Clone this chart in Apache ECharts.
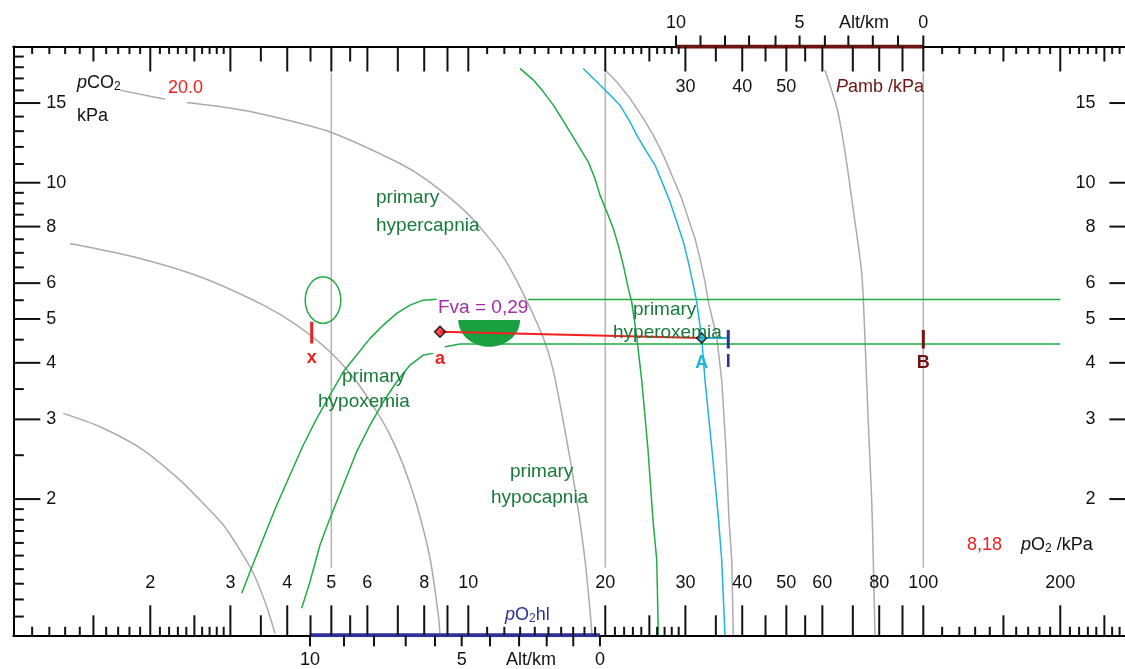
<!DOCTYPE html>
<html><head><meta charset="utf-8">
<script src="https://cdn.jsdelivr.net/npm/echarts/dist/echarts.min.js"></script>
<style>html,body{margin:0;padding:0;background:#fff}#c{width:1125px;height:669px}</style>
</head><body><div id="c"></div>
<script>
// ---------- axis ranges (kPa, log scales) ----------
const X_MIN = 1, X_MAX = 300, Y_MIN = 1, Y_MAX = 20;

// ---------- pO2 axis ticks ----------
const pO2TicksLong = [2,3,4,5,6,7,8,9,10,20,30,40,50,60,70,80,90,100,200];
const pO2TicksMedium = [1.5,2.5,3.5,4.5,5.5,25,35,45,55,150,250];
const pO2TicksSmall = [1.1,1.2,1.3,1.4,1.6,1.7,1.8,1.9,2.1,2.2,2.3,2.4,2.6,2.7,2.8,2.9,
  11,12,13,14,15,16,17,18,19,21,22,23,24,26,27,28,29,
  110,120,130,140,160,170,180,190,210,220,230,240,260,270,280,290];
const pO2LabelsBottom = [2,3,4,5,6,8,10,20,30,40,50,60,80,100,200];
const pO2LabelsTop = [30,40,50];

// ---------- pCO2 axis ticks ----------
const pCO2TicksLong = [2,3,4,5,6,8,10,15];
const pCO2TicksSmall = [1.1,1.2,1.3,1.4,1.5,1.6,1.7,1.8,1.9,2.5,3.5,4.5,5.5,6.5,7,7.5,8.5,9,9.5,
  11,12,13,14,16,17,18,19];
const pCO2Labels = [2,3,4,5,6,8,10,15];

// ---------- altitude scales (km 10 .. 0) ----------
const altLabelled = ['10','5','0'];
const altAmbientP = [28.61,32.38,36.66,41.41,47.34,53.47,60.77,68.43,77.45,87.99,100];   // Pamb kPa
const altHlPO2 = [4.488,5.331,6.205,7.285,8.450,9.671,11.16,12.93,14.87,17.01,19.47];    // pO2hl kPa

// ---------- vertical reference lines ----------
const refPO2 = [5, 20, 100];
const refPCO2Span = [1.41, 17.5];

// ---------- gray iso-curves ----------
const isoA_head = [[1.716,16.02],[2.155,15.30]];
const isoA = [[2.409,15.04],[3.040,14.59],[3.611,14.10],[4.966,12.95],[7.078,11.03],[8.115,10.13],[9.934,8.567],[11.74,7.024],[12.99,5.880],[14.59,4.560],[15.36,3.855],[16.15,2.989],[16.90,2.318],[17.51,1.844],[18.05,1.467],[18.51,1.137],[18.70,1.0]];
const isoB = [[1.332,7.341],[1.836,6.861],[2.572,6.196],[3.543,5.365],[4.196,4.847],[4.966,4.231],[5.684,3.633],[6.290,3.119],[6.729,2.770],[7.196,2.377],[7.702,1.941],[8.239,1.480],[8.592,1.109],[8.666,1.0]];
const isoC = [[1.288,3.093],[1.551,2.889],[1.931,2.567],[2.325,2.203],[2.572,1.990],[2.894,1.753],[3.150,1.543],[3.370,1.371],[3.606,1.157],[3.760,1.01]];
const isoD = [[19.97,17.74],[21.19,16.71],[22.67,15.36],[24.24,13.87],[25.50,12.74],[26.83,11.51],[28.21,10.22],[29.44,9.234],[30.44,8.341],[31.49,7.534],[32.30,6.803],[33.13,6.040],[33.70,5.456],[35.15,4.567],[36.05,3.664],[36.85,2.567],[37.41,1.797],[37.93,1.467],[38.23,1.0]];
const isoE = [[60.77,17.74],[64.77,14.47],[67.19,11.80],[69.67,9.154],[73.21,6.314],[74.45,4.491],[75.70,2.944],[77.01,1.990],[77.64,1.467],[78.31,1.0]];

// ---------- green limit curves ----------
const hypocapniaLimit = [[12.99,17.89],[13.90,16.86],[14.62,15.88],[15.38,14.84],[16.04,13.87],[16.73,12.95],[17.60,11.91],[18.35,11.12],[18.98,10.22],[19.47,9.389],[20.15,8.626],[20.83,7.925],[21.36,7.281],[21.91,6.577],[22.47,5.842],[22.86,5.456],[23.45,4.567],[24.05,3.664],[24.83,2.567],[25.46,1.797],[25.95,1.467],[26.16,1.0]];
const hypoxemiaUpper = [[3.177,1.238],[3.313,1.382],[3.543,1.637],[3.793,1.941],[4.056,2.260],[4.339,2.633],[4.644,3.016],[4.966,3.395],[5.312,3.822],[5.684,4.161],[6.081,4.530],[6.505,4.847],[6.961,5.143],[7.444,5.365],[7.963,5.503],[8.521,5.531]];
const hypoxemiaLower = [[4.303,1.147],[4.488,1.313],[4.721,1.583],[4.966,1.813],[5.312,2.148],[5.684,2.545],[6.081,2.914],[6.505,3.281],[6.961,3.633],[7.444,3.955],[7.963,4.161],[8.377,4.197]];
const upperPCO2Limit = [[13.53,5.523],[200,5.523]];
const lowerPCO2Limit = [[8.887,4.341],[9.589,4.400],[200,4.400]];
const normalEllipse = [[4.381,4.889,5.246,6.196]];      // pO2 min, pCO2 min, pO2 max, pCO2 max
const fvaDisc = [[9.507,4.971,12.99,4.341]];            // pO2 left, pCO2 top, pO2 right, pCO2 bottom

// ---------- cyan curve & points ----------
const cyanCurve = [[17.89,17.89],[19.15,16.71],[20.49,15.62],[21.54,14.84],[22.67,13.63],[23.45,12.74],[24.66,11.70],[25.72,10.94],[26.83,9.879],[27.75,9.074],[28.71,8.197],[29.69,7.404],[30.44,6.688],[31.22,5.940],[31.77,5.456],[32.58,4.537],[33.13,3.664],[34.32,2.567],[35.49,1.797],[36.05,1.467],[36.66,1.0]];
const pointA_art = [8.666, 4.685];   // a
const pointA_alv = [32.58, 4.537];   // A
const pointI = [37.27, 4.537];
const markerX = [[4.527,4.928],[4.527,4.416]];
const markerI = [[37.27,4.725],[37.27,4.305]];
const markerB = [[100,4.725],[100,4.305]];

// ---------- colours ----------
const GRAY = '#ababab', GREEN = '#22ab45', GREEN_TXT = '#177a3b', CYAN = '#1fb4dc',
      RED = '#f02020', MAROON = '#6e1212', BLUE = '#30309a', PURPLE = '#a22ca8', BLACK = '#111';
const FONT = '"Liberation Sans", Arial, sans-serif';

function tickSeries(values, fixed, axis, dx, dy, color, width) {
  return {
    type: 'custom', silent: true, z: 10, clip: false,
    data: values.map(v => axis === 'x' ? [v, fixed] : [fixed, v]),
    encode: {x: 0, y: 1},
    renderItem: (params, api) => {
      const p = api.coord([api.value(0), api.value(1)]);
      return {type: 'line', shape: {x1: p[0], y1: p[1], x2: p[0] + dx, y2: p[1] + dy},
              style: {stroke: color, lineWidth: width}};
    }
  };
}
function textSeries(values, fixed, axis, dx, dy, align, texts, color, weight) {
  return {
    type: 'custom', silent: true, z: 12, clip: false,
    data: values.map(v => axis === 'x' ? [v, fixed] : [fixed, v]),
    encode: {x: 0, y: 1},
    renderItem: (params, api) => {
      const p = api.coord([api.value(0), api.value(1)]);
      const t = texts ? texts[params.dataIndex] : String(values[params.dataIndex]);
      return {type: 'text', x: p[0] + dx, y: p[1] + dy,
              style: {text: t, fill: color || BLACK, fontSize: 18, fontFamily: FONT,
                      fontWeight: weight || 'normal', align: align, verticalAlign: 'middle'}};
    }
  };
}
function line(data, color, width, smooth, z) {
  return {type: 'line', data: data, symbol: 'none', showSymbol: false, smooth: smooth || 0,
          lineStyle: {color: color, width: width}, silent: true, z: z || 3, animation: false};
}

const series = [];
refPO2.forEach(v => series.push(line([[v, refPCO2Span[0]], [v, refPCO2Span[1]]], '#b4b4b4', 1.5, 0, 2)));
[isoA_head, isoA, isoB, isoC, isoE].forEach(d => series.push(line(d, GRAY, 1.5, 0.25, 3)));
series.push(line(isoD, GRAY, 1.5, 0, 3));
[hypocapniaLimit, hypoxemiaUpper, hypoxemiaLower].forEach(d => series.push(line(d, GREEN, 1.5, 0, 4)));
series.push(line(upperPCO2Limit, GREEN, 1.5, 0, 4));
series.push(line(lowerPCO2Limit, GREEN, 1.5, 0, 4));
series.push(line(cyanCurve, CYAN, 1.5, 0, 4));
series.push({type: 'custom', silent: true, z: 5, data: normalEllipse, encode: {x: [0, 2], y: [1, 3]},
  renderItem: (params, api) => {
    const a = api.coord([api.value(0), api.value(1)]), b = api.coord([api.value(2), api.value(3)]);
    return {type: 'ellipse', shape: {cx: (a[0] + b[0]) / 2, cy: (a[1] + b[1]) / 2,
            rx: Math.abs(b[0] - a[0]) / 2, ry: Math.abs(b[1] - a[1]) / 2},
            style: {fill: 'none', stroke: GREEN, lineWidth: 1.5}};
  }});
series.push({type: 'custom', silent: true, z: 5, data: fvaDisc, encode: {x: [0, 2], y: [1, 3]},
  renderItem: (params, api) => {
    const a = api.coord([api.value(0), api.value(1)]), b = api.coord([api.value(2), api.value(3)]);
    const cx = (a[0] + b[0]) / 2, cy = a[1], rx = (b[0] - a[0]) / 2, ry = b[1] - a[1];
    const pts = [];
    for (let k = 0; k <= 40; k++) { const t = Math.PI * k / 40; pts.push([cx - rx * Math.cos(t), cy + ry * Math.sin(t)]); }
    return {type: 'polygon', shape: {points: pts}, style: {fill: '#1aa040'}};
  }});
series.push(line([pointA_art, pointA_alv], RED, 2, 0, 6));
series.push(line([pointA_alv, pointI], CYAN, 2, 0, 6));
series.push(line(markerX, RED, 3, 0, 7));
series.push(line(markerI, BLUE, 3, 0, 7));
series.push(line(markerB, MAROON, 3, 0, 7));
series.push({type: 'scatter', data: [pointA_art], symbol: 'diamond', symbolSize: 11, z: 8, silent: true,
  itemStyle: {color: RED, borderColor: '#000', borderWidth: 1.5}});
series.push({type: 'scatter', data: [pointA_alv], symbol: 'diamond', symbolSize: 10, z: 8, silent: true,
  itemStyle: {color: CYAN, borderColor: '#000', borderWidth: 1.5}});
series.push(textSeries([markerX[1][0]], markerX[1][1], 'x', 0, 15, 'center', ['x'], RED, 'bold'));
series.push(textSeries([pointA_art[0]], pointA_art[1], 'x', 0, 27, 'center', ['a'], RED, 'bold'));
series.push(textSeries([pointA_alv[0]], pointA_alv[1], 'x', 0, 25, 'center', ['A'], CYAN, 'bold'));
series.push(textSeries([markerI[1][0]], markerI[1][1], 'x', 0, 14, 'center', ['I'], BLUE, 'bold'));
series.push(textSeries([markerB[1][0]], markerB[1][1], 'x', 0, 15, 'center', ['B'], MAROON, 'bold'));

series.push(line([[altAmbientP[0], Y_MAX], [altAmbientP[10], Y_MAX]], MAROON, 4, 0, 9));
series.push(line([[altHlPO2[0], Y_MIN], [altHlPO2[10], Y_MIN]], BLUE, 4, 0, 9));

series.push(tickSeries(pO2TicksLong, Y_MIN, 'x', 0, -30, BLACK, 2));
series.push(tickSeries(pO2TicksMedium, Y_MIN, 'x', 0, -20, BLACK, 2));
series.push(tickSeries(pO2TicksSmall, Y_MIN, 'x', 0, -8.5, BLACK, 2));
series.push(tickSeries(pO2TicksLong, Y_MAX, 'x', 0, 25, BLACK, 2));
series.push(tickSeries(pO2TicksMedium, Y_MAX, 'x', 0, 15, BLACK, 2));
series.push(tickSeries(pO2TicksSmall, Y_MAX, 'x', 0, 7.5, BLACK, 2));
series.push(tickSeries(pCO2TicksLong, X_MIN, 'y', 27, 0, BLACK, 2));
series.push(tickSeries(pCO2TicksSmall, X_MIN, 'y', 10.5, 0, BLACK, 2));
series.push(tickSeries(pCO2TicksLong, X_MAX, 'y', -31, 0, BLACK, 2));
series.push(tickSeries(pCO2TicksSmall, X_MAX, 'y', -10.5, 0, BLACK, 2));
series.push(tickSeries(altAmbientP, Y_MAX, 'x', 0, -11, BLACK, 2));
series.push(tickSeries(altHlPO2, Y_MIN, 'x', 0, 11, BLACK, 2));

series.push(textSeries(pO2LabelsBottom, Y_MIN, 'x', 0, -52, 'center'));
series.push(textSeries(pO2LabelsTop, Y_MAX, 'x', 0, 41, 'center'));
series.push(textSeries(pCO2Labels, X_MIN, 'y', 33, 0, 'left'));
series.push(textSeries(pCO2Labels, X_MAX, 'y', -45, 0, 'right'));
series.push(textSeries([altAmbientP[0], altAmbientP[5], altAmbientP[10]], Y_MAX, 'x', 0, -23, 'center', altLabelled));
series.push(textSeries([altHlPO2[0], altHlPO2[5], altHlPO2[10]], Y_MIN, 'x', 0, 25, 'center', altLabelled));

function txt(x, y, text, color, extra) {
  return Object.assign({type: 'text', x: x, y: y, z: 100, silent: true,
    style: Object.assign({text: text, fill: color || BLACK, fontSize: 18, fontFamily: FONT,
      align: 'left', verticalAlign: 'middle'}, extra || {})});
}
const RICH = {i: {fontStyle: 'italic', fontSize: 18, fontFamily: FONT},
              s: {fontSize: 12, fontFamily: FONT, padding: [8, 0, 0, 0]}};
const BIG = {fontSize: 19};
const graphics = [
  txt(77, 83, '{i|p}CO{s|2}', BLACK, {rich: RICH}),
  txt(77, 116, 'kPa'),
  txt(168, 88, '20.0', RED),
  txt(376, 198, 'primary', GREEN_TXT, BIG),
  txt(376, 226, 'hypercapnia', GREEN_TXT, BIG),
  txt(342, 377, 'primary', GREEN_TXT, BIG),
  txt(318, 402, 'hypoxemia', GREEN_TXT, BIG),
  txt(510, 472, 'primary', GREEN_TXT, BIG),
  txt(491, 498, 'hypocapnia', GREEN_TXT, BIG),
  txt(633, 310, 'primary', GREEN_TXT, BIG),
  txt(613, 333, 'hyperoxemia', GREEN_TXT, BIG),
  txt(438, 308, 'Fva = 0,29', PURPLE, BIG),
  txt(967, 545, '8,18', RED),
  txt(1021, 545, '{i|p}O{s|2} /kPa', BLACK, {rich: RICH}),
  txt(864, 23, 'Alt/km', BLACK, {align: 'center'}),
  txt(836, 87, '{i|P}amb /kPa', MAROON, {rich: {i: {fontStyle: 'italic', fontSize: 18, fontFamily: FONT, fill: MAROON}}}),
  txt(505, 615, '{i|p}O{s|2}hl', BLUE, {rich: {i: {fontStyle: 'italic', fontSize: 18, fontFamily: FONT, fill: BLUE},
      s: {fontSize: 12, fontFamily: FONT, padding: [8, 0, 0, 0], fill: BLUE}}}),
  txt(531, 660, 'Alt/km', BLACK, {align: 'center'})
];

const axisCommon = {type: 'log', logBase: 10, axisTick: {show: false}, axisLabel: {show: false},
  splitLine: {show: false}, axisLine: {show: true, lineStyle: {color: '#000', width: 2}}};
const chart = echarts.init(document.getElementById('c'), null, {renderer: 'canvas'});
chart.setOption({
  animation: false,
  backgroundColor: '#fff',
  grid: {left: 13.3, top: 46.5, width: 1127.1, height: 588.8, containLabel: false, outerBoundsMode: 'none'},
  xAxis: [Object.assign({min: X_MIN, max: X_MAX, position: 'bottom'}, axisCommon),
          Object.assign({min: X_MIN, max: X_MAX, position: 'top'}, axisCommon)],
  yAxis: [Object.assign({min: Y_MIN, max: Y_MAX, position: 'left'}, axisCommon),
          Object.assign({min: Y_MIN, max: Y_MAX, position: 'right'}, axisCommon)],
  series: series,
  graphic: graphics
});
</script></body></html>
